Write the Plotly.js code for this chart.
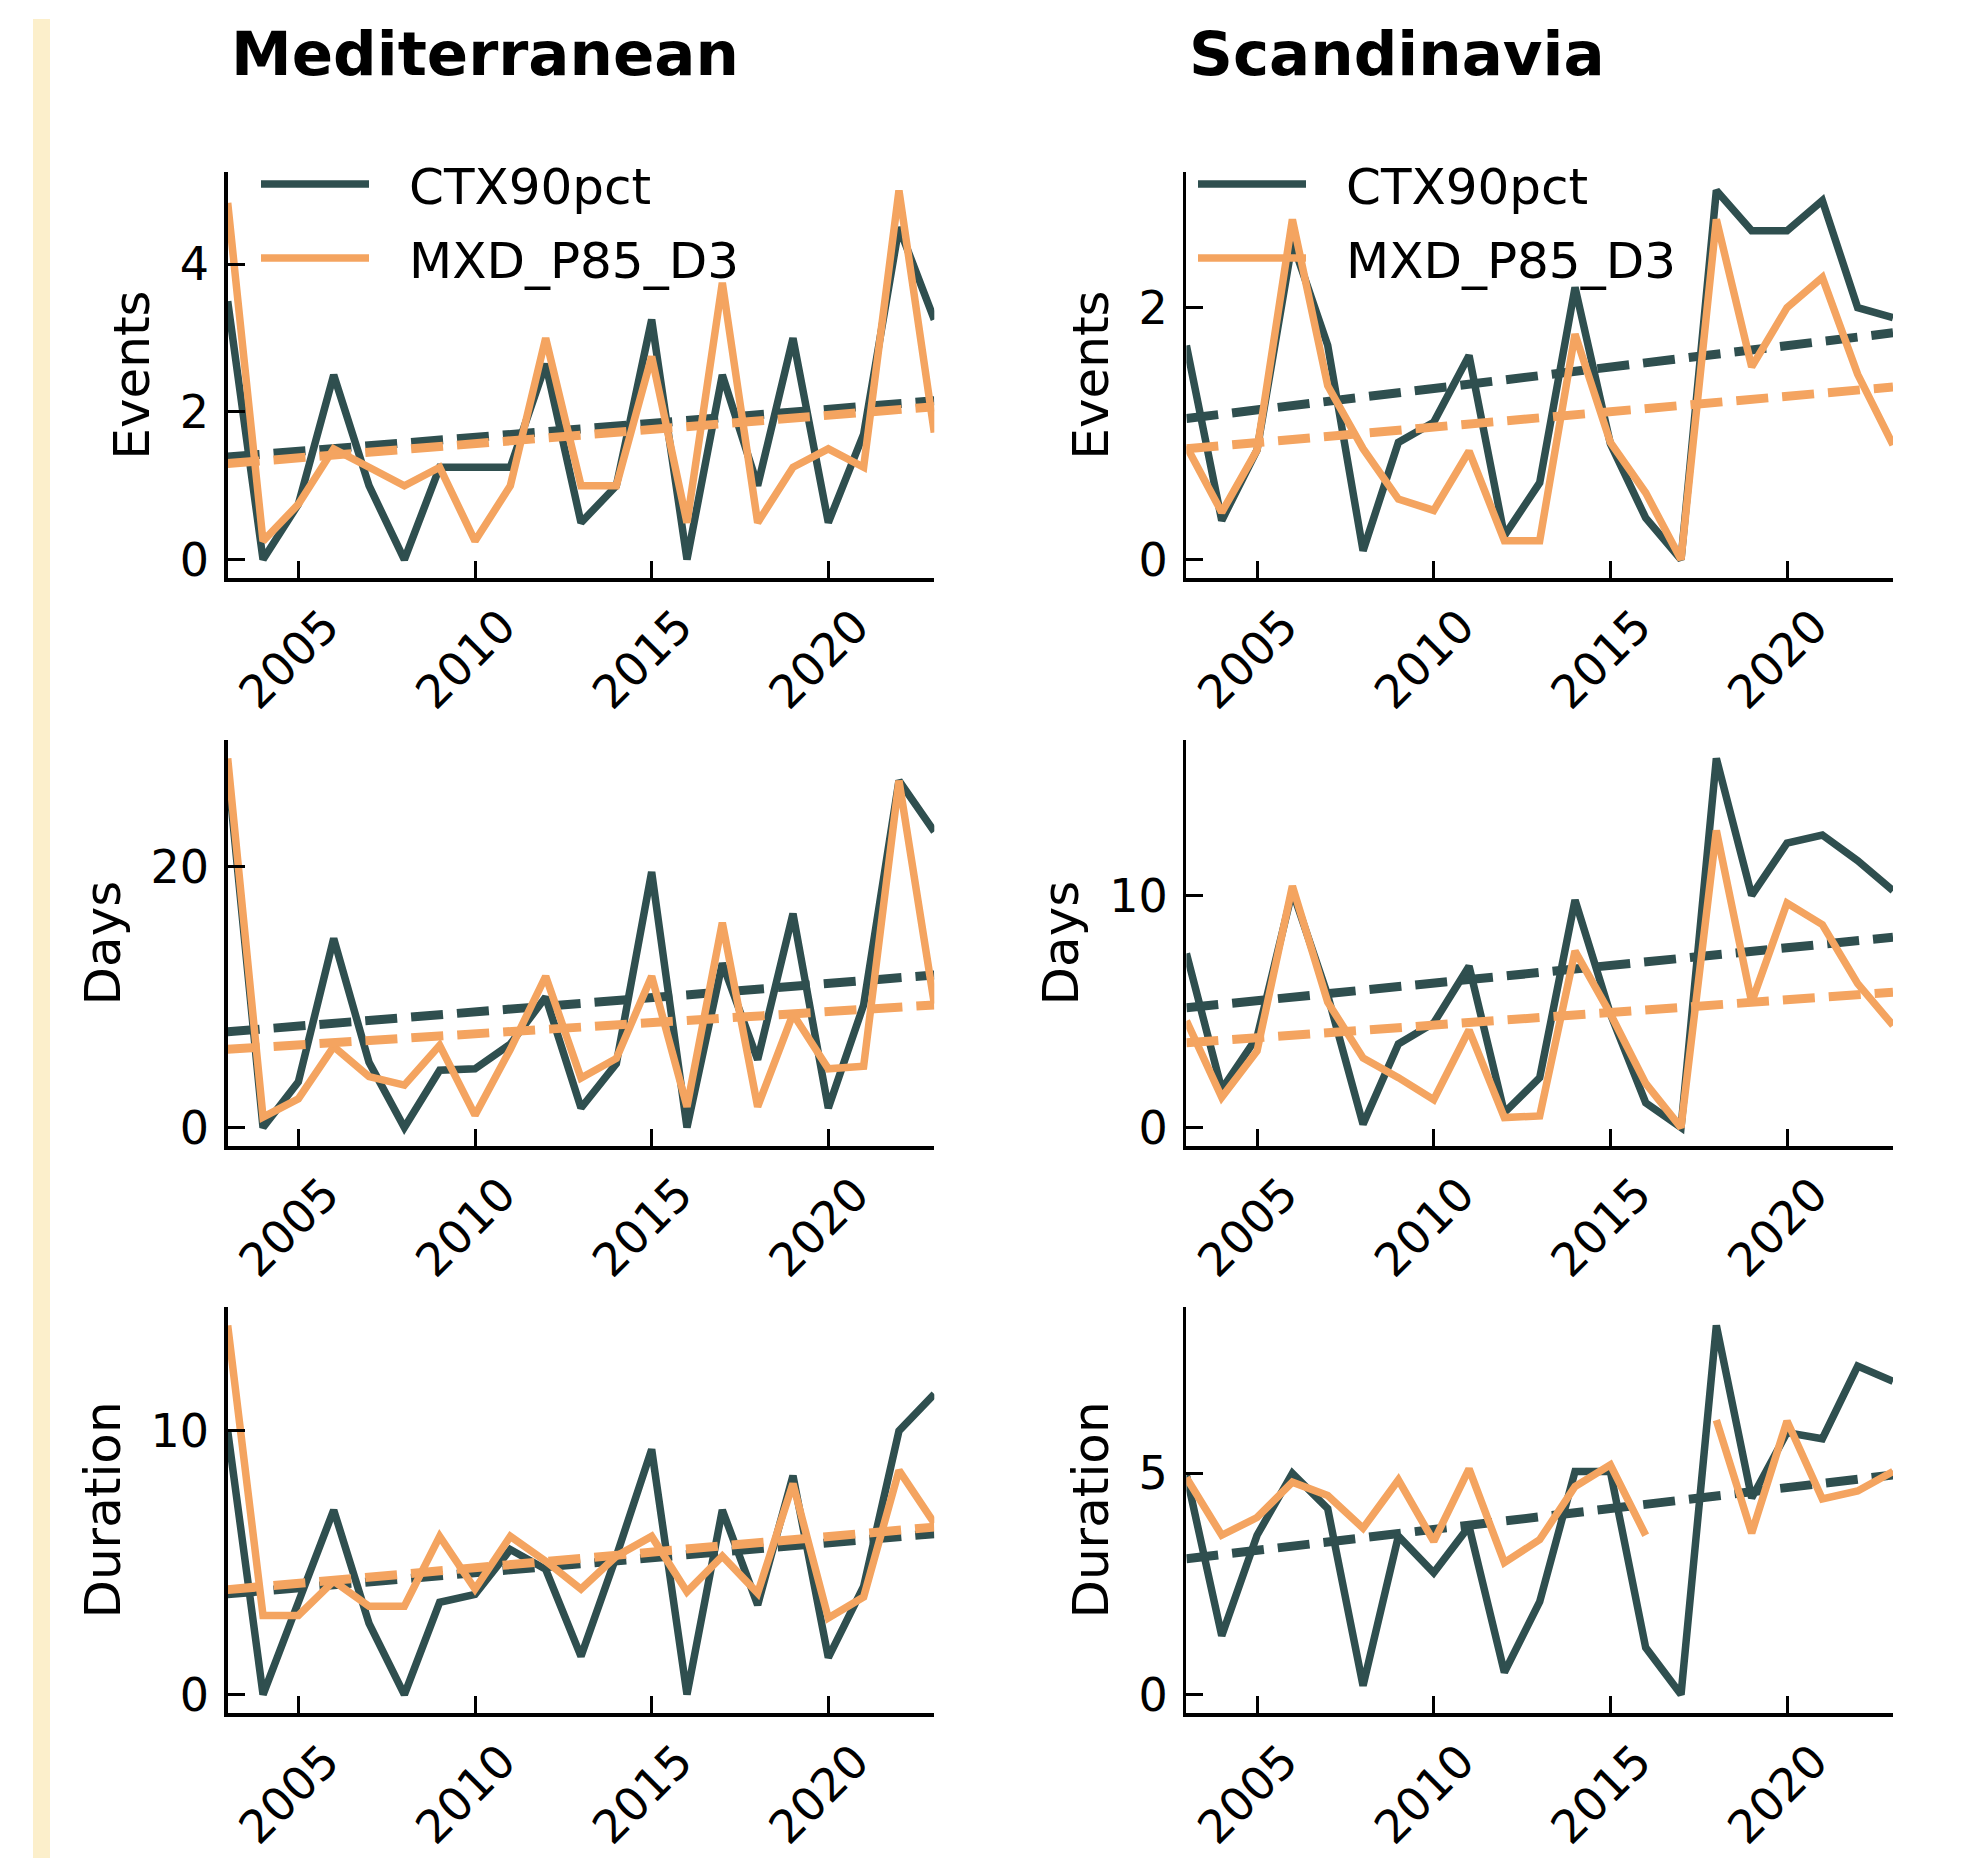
<!DOCTYPE html>
<html>
<head>
<meta charset="utf-8">
<script src="https://cdn.plot.ly/plotly-3.0.1.min.js"></script>
<style>
html,body{margin:0;padding:0;background:#ffffff;}
#chart{width:1969px;height:1858px;}
</style>
</head>
<body>
<div id="chart"></div>
<script>
// ---------------- DATA ----------------
const years = [2003,2004,2005,2006,2007,2008,2009,2010,2011,2012,2013,2014,2015,2016,2017,2018,2019,2020,2021,2022,2023];
const trendYears = [2003, 2023];
const regions = ["Mediterranean", "Scandinavia"];
const metrics = ["Events", "Days", "Duration"];
const seriesNames = ["CTX90pct", "MXD_P85_D3"];
const xTickVals = [2005, 2010, 2015, 2020];
const xTickText = ["2005", "2010", "2015", "2020"];

// Mediterranean
const medEventsCTX = [3.5, 0, 0.75, 2.5, 1.0, 0, 1.25, 1.25, 1.25, 2.65, 0.5, 1.0, 3.25, 0, 2.5, 1.0, 3.0, 0.5, 1.7, 4.5, 3.25];
const medEventsMXD = [4.83, 0.25, 0.75, 1.5, 1.25, 1.0, 1.25, 0.25, 1.0, 3.0, 1.0, 1.0, 2.75, 0.5, 3.75, 0.5, 1.25, 1.5, 1.25, 5.0, 1.72];
const medEventsTrendCTX = [1.39, 2.15];
const medEventsTrendMXD = [1.30, 2.07];

const medDaysCTX = [27.5, 0, 3.5, 14.5, 5.0, 0, 4.4, 4.5, 6.4, 10.0, 1.5, 4.9, 19.6, 0, 12.6, 5.2, 16.4, 1.5, 9.4, 26.6, 22.7];
const medDaysMXD = [28.3, 0.8, 2.2, 6.2, 3.9, 3.25, 6.3, 0.95, 6.0, 11.6, 3.8, 5.3, 11.6, 1.6, 15.7, 1.6, 8.7, 4.5, 4.7, 26.6, 9.5];
const medDaysTrendCTX = [7.34, 11.7];
const medDaysTrendMXD = [6.0, 9.4];

const medDurationCTX = [10.0, 0, 3.5, 7.0, 2.7, 0, 3.5, 3.8, 5.5, 4.75, 1.45, 5.25, 9.3, 0, 7.0, 3.4, 8.3, 1.4, 4.1, 10.0, 11.4];
const medDurationMXD = [14.0, 3.0, 3.0, 4.3, 3.35, 3.35, 6.0, 4.0, 6.0, 5.06, 4.0, 5.25, 6.0, 3.9, 5.25, 3.85, 8.0, 2.9, 3.7, 8.5, 6.5];
const medDurationTrendCTX = [3.82, 6.1];
const medDurationTrendMXD = [3.98, 6.35];

// Scandinavia
const scaEventsCTX = [1.70, 0.31, 0.87, 2.52, 1.70, 0.07, 0.93, 1.09, 1.62, 0.19, 0.61, 2.16, 0.92, 0.33, 0.0, 2.93, 2.61, 2.61, 2.85, 2.0, 1.92];
const scaEventsMXD = [0.90, 0.375, 0.87, 2.70, 1.38, 0.88, 0.48, 0.39, 0.86, 0.15, 0.15, 1.79, 0.93, 0.53, 0.0, 2.70, 1.53, 2.0, 2.24, 1.47, 0.91];
const scaEventsTrendCTX = [1.12, 1.80];
const scaEventsTrendMXD = [0.88, 1.37];

const scaDaysCTX = [7.5, 1.65, 3.9, 10.2, 5.7, 0.14, 3.6, 4.5, 6.95, 0.64, 2.15, 9.8, 4.9, 1.07, 0, 15.9, 10.0, 12.25, 12.6, 11.5, 10.2];
const scaDaysMXD = [4.6, 1.3, 3.3, 10.4, 5.4, 3.0, 2.15, 1.2, 4.2, 0.43, 0.5, 7.6, 4.9, 1.9, 0, 12.8, 5.4, 9.67, 8.74, 6.2, 4.4];
const scaDaysTrendCTX = [5.16, 8.2];
const scaDaysTrendMXD = [3.65, 5.83];

const scaDurationCTX = [4.96, 1.33, 3.6, 5.0, 4.2, 0.2, 3.58, 2.75, 3.8, 0.5, 2.1, 5.04, 5.04, 1.06, 0, 8.34, 4.44, 5.92, 5.78, 7.42, 7.08];
const scaDurationMXD = [4.9, 3.6, 4.0, 4.8, 4.5, 3.76, 4.85, 3.46, 5.1, 2.98, 3.5, 4.7, 5.19, 3.6, null, 6.2, 3.65, 6.18, 4.42, 4.6, 5.04];
const scaDurationTrendCTX = [3.07, 4.96];
const scaDurationTrendMXD = null;   // no trend (gap in series)

const yTickStep = [[2, 2], [20, 10], [10, 5]];

// ---------------- BUILD ----------------
const panels = [
  [ [medEventsCTX, medEventsMXD, medEventsTrendCTX, medEventsTrendMXD],
    [scaEventsCTX, scaEventsMXD, scaEventsTrendCTX, scaEventsTrendMXD] ],
  [ [medDaysCTX, medDaysMXD, medDaysTrendCTX, medDaysTrendMXD],
    [scaDaysCTX, scaDaysMXD, scaDaysTrendCTX, scaDaysTrendMXD] ],
  [ [medDurationCTX, medDurationMXD, medDurationTrendCTX, medDurationTrendMXD],
    [scaDurationCTX, scaDurationMXD, scaDurationTrendCTX, scaDurationTrendMXD] ]
];

const W = 1969, H = 1858;
const FONT = "DejaVu Sans";
const DARK = "#2F4F4F", ORANGE = "#F4A460";
const LW = 7.5, TLW = 9, DASH = "32px,14px";
const colPx = [[227.7, 934.3], [1186.4, 1893.0]];
const rowPx = [[172, 578], [740, 1146], [1307, 1713]];

const traces = [];
const layout = {
  width: W, height: H,
  margin: {l: 0, r: 0, t: 0, b: 0},
  paper_bgcolor: "#ffffff",
  plot_bgcolor: "rgba(0,0,0,0)",
  font: {family: FONT, color: "#000000"},
  showlegend: true,
  shapes: [{
    type: "rect", xref: "paper", yref: "paper",
    x0: 33 / W, x1: 50 / W, y0: 0, y1: 1 - 19 / H,
    fillcolor: "#FCEFCB", line: {width: 0}, layer: "below"
  }],
  annotations: []
};

function rangeOf(arrs) {
  let lo = Infinity, hi = -Infinity;
  arrs.forEach(a => { if (!a) return; a.forEach(v => { if (v !== null && v !== undefined) { lo = Math.min(lo, v); hi = Math.max(hi, v); } }); });
  const pad = 0.05 * (hi - lo);
  return [lo - pad, hi + pad];
}

for (let r = 0; r < 3; r++) {
  for (let c = 0; c < 2; c++) {
    const idx = r * 2 + c + 1;
    const xa = idx === 1 ? "x" : "x" + idx;
    const ya = idx === 1 ? "y" : "y" + idx;
    const [ctx, mxd, tctx, tmxd] = panels[r][c];
    const legendId = c === 0 ? "legend" : "legend2";
    const showLeg = (r === 0);

    traces.push({x: years, y: ctx, xaxis: xa, yaxis: ya, type: "scatter", mode: "lines",
      name: seriesNames[0], legend: legendId, legendgroup: "ctx", showlegend: showLeg,
      line: {color: DARK, width: LW}, hoverinfo: "skip"});
    traces.push({x: trendYears, y: tctx, xaxis: xa, yaxis: ya, type: "scatter", mode: "lines",
      showlegend: false, line: {color: DARK, width: TLW, dash: DASH}, hoverinfo: "skip"});
    traces.push({x: years, y: mxd, xaxis: xa, yaxis: ya, type: "scatter", mode: "lines",
      name: seriesNames[1], legend: legendId, legendgroup: "mxd", showlegend: showLeg,
      connectgaps: false, line: {color: ORANGE, width: LW}, hoverinfo: "skip"});
    if (tmxd) {
      traces.push({x: trendYears, y: tmxd, xaxis: xa, yaxis: ya, type: "scatter", mode: "lines",
        showlegend: false, line: {color: ORANGE, width: TLW, dash: DASH}, hoverinfo: "skip"});
    }

    const xKey = idx === 1 ? "xaxis" : "xaxis" + idx;
    const yKey = idx === 1 ? "yaxis" : "yaxis" + idx;
    layout[xKey] = {
      domain: [colPx[c][0] / W, colPx[c][1] / W],
      anchor: ya,
      range: [trendYears[0], trendYears[1]],
      tickmode: "array", tickvals: xTickVals, ticktext: xTickText,
      tickangle: -45,
      ticks: "inside", ticklen: 17, tickwidth: 3, tickcolor: "#000",
      showline: true, linecolor: "#000", linewidth: 3.5,
      showgrid: false, zeroline: false,
      tickfont: {family: FONT, size: 46, color: "#000"},
      ticklabelshift: 27, ticklabelstandoff: -1,
      fixedrange: true
    };
    layout[yKey] = {
      domain: [1 - rowPx[r][1] / H, 1 - rowPx[r][0] / H],
      anchor: xa,
      range: rangeOf([ctx, mxd, tctx, tmxd]),
      dtick: yTickStep[r][c], tick0: 0,
      ticks: "inside", ticklen: 17, tickwidth: 3, tickcolor: "#000",
      showline: true, linecolor: "#000", linewidth: 3.5,
      showgrid: false, zeroline: false,
      tickfont: {family: FONT, size: 46, color: "#000"},
      ticklabelstandoff: 6,
      title: {text: metrics[r], font: {family: FONT, size: 50, color: "#000"}, standoff: 15},
      fixedrange: true
    };
  }
}

const legendBase = {
  xanchor: "left", yanchor: "top",
  bgcolor: "rgba(0,0,0,0)", borderwidth: 0,
  font: {family: FONT, size: 50, color: "#000"},
  itemwidth: 143, traceorder: "grouped", tracegroupgap: 6
};
layout.legend = Object.assign({}, legendBase, {x: 256 / W, y: 1 - 145 / H});
layout.legend2 = Object.assign({}, legendBase, {x: 1193 / W, y: 1 - 145 / H});

regions.forEach((name, c) => {
  layout.annotations.push({
    text: name, xref: "paper", yref: "paper",
    x: (colPx[c][0] + 1) / W, y: 1 - 16 / H,
    xanchor: "left", yanchor: "top", showarrow: false,
    font: {family: FONT, size: 61, color: "#000", weight: "bold"}
  });
});

function patchLegend() {
  document.querySelectorAll("#chart .infolayer path.js-line").forEach(p => {
    p.setAttribute("d", "M5,0h108");
    p.style.strokeWidth = LW + "px";
  });
}

Plotly.newPlot("chart", traces, layout, {staticPlot: true, displayModeBar: false}).then(gd => {
  patchLegend();
  gd.on("plotly_afterplot", patchLegend);
});
</script>
</body>
</html>
